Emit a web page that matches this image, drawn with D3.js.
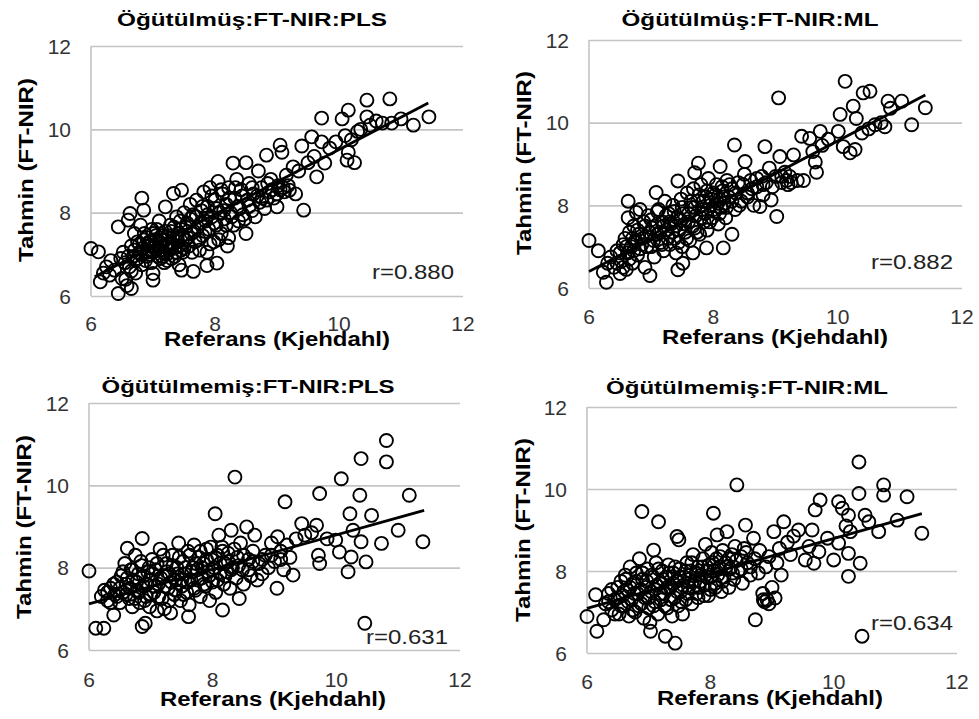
<!DOCTYPE html>
<meta charset="utf-8">
<style>
body { margin: 0; background: #fff; }
text { font-family: Arial, "Liberation Sans", sans-serif; }
.grid line { stroke: #c4c4c4; stroke-width: 1.6px; }
.grid path { display: none; }
.axisline { stroke: #c4c4c4; stroke-width: 1.6px; }
.dots circle { fill: none; stroke: #000; stroke-width: 1.9px; }
.fit { stroke: #000; stroke-width: 2.8px; }
.tick-label { fill: #333; font-size: 21px; }
</style>
<svg width="979" height="719"></svg>
<script src="https://cdn.jsdelivr.net/npm/d3@7"></script>
<script>

var titles = ["Öğütülmüş:FT-NIR:PLS", "Öğütülmüş:FT-NIR:ML", "Öğütülmemiş:FT-NIR:PLS", "Öğütülmemiş:FT-NIR:ML"];
var rLabels = ["r=0.880", "r=0.882", "r=0.631", "r=0.634"];
var xTitle = "Referans (Kjehdahl)";
var yTitle = "Tahmin (FT-NIR)";
var xTicks = [6, 8, 10, 12];
var yTicks = [6, 8, 10, 12];

// trend lines, end points
var fit1 = [[6.06, 6.46], [11.44, 10.63]];
var fit2 = [[6.0, 6.4], [11.41, 10.67]];
var fit3 = [[6.0, 7.12], [11.42, 9.39]];
var fit4 = [[6.0, 7.09], [11.43, 9.4]];

var pts1 = [[6.0,7.14],[6.12,7.06],[6.15,6.34],[6.2,6.55],[6.25,6.7],[6.3,6.5],[6.32,6.85],[6.38,6.62],[6.44,6.06],[6.44,7.66],[6.48,6.9],[6.5,6.42],[6.52,7.05],[6.56,6.4],[6.58,6.25],[6.6,7.82],[6.62,6.7],[6.63,7.98],[6.65,6.18],[6.65,7.2],[6.68,6.95],[6.7,7.5],[6.72,6.55],[6.75,7.3],[6.78,7.05],[6.8,7.7],[6.82,8.35],[6.84,7.15],[6.85,8.06],[6.88,6.85],[6.9,7.4],[6.92,7.25],[6.95,7.0],[6.98,7.6],[7.0,6.38],[7.0,6.54],[7.02,7.2],[7.05,7.45],[7.08,6.95],[7.1,7.8],[7.12,7.1],[7.15,7.35],[7.18,6.8],[7.2,8.14],[7.2,7.55],[7.22,7.0],[7.25,7.25],[7.28,7.7],[7.3,6.9],[7.32,7.4],[7.33,8.46],[7.35,7.15],[7.38,7.9],[7.4,7.3],[7.42,6.75],[7.45,7.6],[7.46,8.54],[7.46,6.62],[7.48,7.05],[7.5,8.0],[7.52,7.35],[7.55,7.75],[7.58,7.2],[7.6,8.2],[7.62,7.5],[7.65,6.59],[7.65,7.95],[7.68,7.3],[7.7,8.3],[7.72,7.65],[7.75,7.1],[7.78,8.05],[7.8,7.45],[7.82,8.5],[7.85,7.8],[7.87,6.73],[7.87,7.05],[7.88,8.15],[7.9,7.6],[7.92,8.6],[7.95,7.9],[7.98,7.3],[8.0,8.3],[8.02,7.7],[8.03,6.79],[8.05,8.75],[8.08,8.0],[8.1,7.5],[8.12,8.45],[8.15,7.85],[8.18,8.2],[8.2,7.2],[8.22,7.4],[8.22,8.6],[8.25,8.0],[8.29,9.19],[8.3,7.7],[8.32,8.35],[8.35,8.8],[8.38,7.8],[8.4,8.1],[8.42,8.55],[8.45,7.95],[8.5,9.2],[8.5,7.5],[8.52,8.3],[8.55,8.7],[8.6,8.05],[8.62,8.45],[8.65,7.9],[8.7,9.0],[8.72,8.25],[8.75,8.6],[8.8,8.1],[8.83,9.38],[8.83,8.3],[8.88,8.5],[8.9,8.8],[8.95,8.35],[9.0,8.14],[9.02,8.65],[9.05,9.62],[9.08,9.45],[9.1,8.6],[9.15,8.9],[9.2,8.54],[9.26,9.1],[9.3,8.45],[9.35,9.0],[9.4,9.6],[9.43,8.06],[9.5,9.2],[9.56,9.82],[9.6,9.35],[9.64,8.86],[9.72,9.7],[9.72,10.27],[9.77,9.19],[9.85,9.55],[9.95,9.7],[10.05,10.25],[10.1,9.85],[10.13,9.26],[10.15,10.46],[10.15,9.45],[10.2,9.75],[10.25,9.2],[10.3,9.95],[10.35,10.0],[10.45,10.3],[10.45,10.7],[10.5,10.1],[10.6,10.2],[10.7,10.15],[10.82,10.73],[10.85,10.15],[11.0,10.25],[11.2,10.1],[11.45,10.3],[6.85,7.35],[6.95,7.2],[7.05,7.1],[7.1,7.3],[7.15,6.95],[7.25,7.45],[7.3,7.15],[7.35,6.95],[6.75,6.9],[6.9,7.05],[7.0,7.5],[7.2,7.2],[7.4,7.5],[7.45,7.1],[6.8,7.0],
  [6.55,6.8],[6.6,6.95],[6.65,6.6],[6.7,7.1],[6.72,6.85],[6.78,7.25],[6.82,6.75],[6.86,7.5],[6.9,6.95],[6.94,7.3],[6.97,6.8],[7.0,7.05],[7.03,7.35],[7.06,7.6],[7.09,7.15],[7.12,6.9],[7.14,7.45],[7.17,7.05],[7.2,7.35],[7.23,6.85],[7.26,7.1],[7.29,7.55],[7.31,7.25],[7.34,7.65],[7.37,7.05],[7.39,7.4],[7.42,7.2],[7.44,7.8],[7.47,7.45],[7.5,7.15],[7.53,7.65],[7.56,7.4],[7.6,7.85],[7.63,7.05],[7.66,7.55],[7.7,7.9],[7.74,7.35],[7.77,7.75],[7.8,8.15],[7.84,7.55],[7.88,7.95],[7.92,7.25],[7.95,8.4],[7.99,7.75],[8.03,8.1],[8.06,7.35],[8.1,8.55],[8.14,8.05],[8.18,7.7],[8.23,8.35],[8.27,7.9],[8.33,8.6],[8.37,8.15],[8.44,8.4],[8.48,7.85],[8.55,8.15],[8.6,8.6],[8.68,8.4],[8.76,8.35],[8.85,8.7],[8.92,8.55],[9.0,8.45],[9.05,8.55],[9.12,8.5],[9.18,8.65]];

var pts2 = [[6.0,7.15],[6.15,6.9],[6.23,6.38],[6.28,6.14],[6.3,6.6],[6.35,6.75],[6.4,6.5],[6.45,6.9],[6.5,6.35],[6.52,6.65],[6.55,7.05],[6.58,7.2],[6.6,6.45],[6.62,6.85],[6.63,7.7],[6.63,8.1],[6.65,7.35],[6.68,7.0],[6.7,6.6],[6.72,7.5],[6.75,7.15],[6.76,7.83],[6.78,6.8],[6.8,7.3],[6.82,7.9],[6.85,7.05],[6.88,7.6],[6.9,6.5],[6.92,7.25],[6.95,7.75],[6.98,6.3],[7.0,7.0],[7.02,7.45],[7.05,6.75],[7.08,8.31],[7.1,7.3],[7.12,7.9],[7.15,7.1],[7.18,7.6],[7.2,6.9],[7.22,8.1],[7.25,7.4],[7.28,7.8],[7.3,7.05],[7.32,7.55],[7.35,8.0],[7.38,7.2],[7.4,6.85],[7.42,7.7],[7.43,8.59],[7.43,6.44],[7.45,7.4],[7.48,8.15],[7.5,7.0],[7.51,6.6],[7.52,7.8],[7.55,7.35],[7.58,8.3],[7.6,7.6],[7.62,7.15],[7.65,7.95],[7.67,6.85],[7.68,8.4],[7.7,8.79],[7.7,7.45],[7.72,7.75],[7.75,8.1],[7.76,9.02],[7.78,7.3],[7.8,8.5],[7.82,7.9],[7.85,7.6],[7.88,8.2],[7.89,6.97],[7.9,7.4],[7.92,8.65],[7.95,8.0],[7.98,7.7],[8.0,8.3],[8.02,7.85],[8.05,8.5],[8.08,7.55],[8.1,8.15],[8.11,8.94],[8.12,7.95],[8.15,8.35],[8.16,6.97],[8.18,8.05],[8.2,7.7],[8.22,8.6],[8.25,8.2],[8.3,7.3],[8.3,8.4],[8.34,9.46],[8.35,7.9],[8.4,8.55],[8.45,8.1],[8.5,8.75],[8.51,9.06],[8.55,8.3],[8.6,8.6],[8.65,8.0],[8.7,8.45],[8.75,7.97],[8.78,8.7],[8.8,8.25],[8.83,9.42],[8.85,8.55],[8.9,8.9],[8.93,8.13],[8.95,8.45],[9.0,8.7],[9.02,7.73],[9.05,10.6],[9.07,9.18],[9.1,8.55],[9.15,8.8],[9.2,8.5],[9.23,8.7],[9.29,9.22],[9.35,8.6],[9.42,9.67],[9.45,8.6],[9.55,9.62],[9.6,9.3],[9.64,9.05],[9.66,8.8],[9.72,9.79],[9.75,9.45],[9.85,9.6],[10.01,9.79],[10.04,10.2],[10.09,9.42],[10.12,11.0],[10.2,9.27],[10.25,10.4],[10.28,9.35],[10.3,10.1],[10.39,9.75],[10.41,10.72],[10.5,9.85],[10.52,10.76],[10.6,9.95],[10.7,10.0],[10.76,9.9],[10.81,10.52],[10.85,10.35],[11.03,10.52],[11.19,9.95],[11.41,10.36],
  [6.45,6.6],[6.5,6.85],[6.55,6.5],[6.6,7.0],[6.65,6.7],[6.7,7.2],[6.72,6.9],[6.78,7.4],[6.82,6.95],[6.86,7.2],[6.9,7.5],[6.93,7.0],[6.97,7.35],[7.0,7.65],[7.04,7.15],[7.07,7.5],[7.1,7.85],[7.14,7.35],[7.17,7.05],[7.2,7.5],[7.24,7.75],[7.27,7.2],[7.3,7.6],[7.34,7.35],[7.37,7.85],[7.4,7.5],[7.44,7.1],[7.47,7.65],[7.5,7.95],[7.54,7.55],[7.57,7.2],[7.6,7.8],[7.64,8.1],[7.67,7.5],[7.7,7.95],[7.74,7.35],[7.77,8.25],[7.8,7.7],[7.84,8.1],[7.87,7.8],[7.9,8.35],[7.94,7.6],[7.97,8.15],[8.0,7.9],[8.03,8.25],[8.07,8.05],[8.1,7.8],[8.14,8.45],[8.17,8.2],[8.21,7.95],[8.26,8.5],[8.3,8.1],[8.36,8.3],[8.42,8.0],[8.48,8.5],[8.55,8.2],[8.62,8.4],[8.7,8.65],[8.8,8.5],[9.1,8.7],[9.18,8.6],[9.25,8.55]];

var pts3 = [[6.0,7.92],[6.11,6.53],[6.24,6.53],[6.2,7.3],[6.25,7.45],[6.3,7.2],[6.35,7.5],[6.4,6.85],[6.42,7.35],[6.45,7.65],[6.5,7.15],[6.52,7.8],[6.55,7.4],[6.58,8.1],[6.6,7.6],[6.62,8.47],[6.65,7.25],[6.68,7.95],[6.7,7.05],[6.72,7.7],[6.75,8.3],[6.78,7.45],[6.8,7.85],[6.82,7.15],[6.85,8.05],[6.86,8.71],[6.86,6.57],[6.88,7.55],[6.91,6.65],[6.92,7.3],[6.95,7.9],[6.98,7.05],[7.0,7.7],[7.02,8.2],[7.05,7.4],[7.08,7.95],[7.1,6.95],[7.12,7.6],[7.15,8.45],[7.18,7.25],[7.2,7.8],[7.22,7.0],[7.25,8.1],[7.28,7.5],[7.3,7.85],[7.32,6.9],[7.35,8.3],[7.38,7.35],[7.4,7.7],[7.42,8.0],[7.45,8.6],[7.48,7.2],[7.5,7.55],[7.52,8.15],[7.55,7.85],[7.58,7.4],[7.6,8.4],[7.61,6.81],[7.62,7.1],[7.65,7.7],[7.68,8.0],[7.7,8.55],[7.72,7.45],[7.75,7.95],[7.78,8.25],[7.8,7.3],[7.82,7.75],[7.85,8.1],[7.88,7.55],[7.9,8.45],[7.92,7.9],[7.95,7.2],[7.98,8.2],[8.0,7.65],[8.02,8.0],[8.04,9.31],[8.05,7.4],[8.08,8.3],[8.1,8.79],[8.12,7.85],[8.15,8.5],[8.16,6.97],[8.18,7.6],[8.2,8.1],[8.22,7.9],[8.25,8.35],[8.28,7.5],[8.3,8.91],[8.32,8.0],[8.36,10.2],[8.38,7.75],[8.4,8.25],[8.43,7.25],[8.45,8.6],[8.48,7.95],[8.5,7.6],[8.55,8.99],[8.58,8.2],[8.62,7.8],[8.65,8.4],[8.68,8.79],[8.72,7.7],[8.75,8.1],[8.8,7.85],[8.85,8.3],[8.9,8.0],[8.95,8.6],[9.0,8.15],[9.04,7.5],[9.05,8.75],[9.1,8.4],[9.15,7.95],[9.17,9.6],[9.2,8.55],[9.25,8.25],[9.3,7.82],[9.35,8.7],[9.44,9.07],[9.49,8.79],[9.6,8.85],[9.68,9.03],[9.71,8.3],[9.73,9.8],[9.73,8.1],[9.85,8.7],[9.99,8.67],[10.05,8.38],[10.08,10.16],[10.19,7.9],[10.22,9.31],[10.24,8.26],[10.27,8.91],[10.38,9.76],[10.4,10.65],[10.4,8.63],[10.46,6.65],[10.48,8.14],[10.57,9.27],[10.73,8.59],[10.81,11.09],[10.81,10.57],[11.0,8.91],[11.18,9.76],[11.4,8.63],
  [6.3,7.4],[6.35,7.15],[6.4,7.6],[6.45,7.3],[6.5,7.5],[6.55,7.9],[6.6,7.35],[6.62,7.75],[6.66,7.5],[6.7,7.95],[6.74,7.25],[6.77,7.65],[6.8,7.4],[6.84,8.15],[6.88,7.8],[6.9,7.2],[6.94,7.6],[6.97,8.0],[7.0,7.35],[7.03,7.85],[7.06,7.55],[7.1,8.1],[7.13,7.3],[7.16,7.75],[7.2,8.3],[7.23,7.55],[7.26,7.9],[7.3,7.2],[7.33,7.65],[7.36,8.05],[7.4,7.45],[7.43,7.85],[7.46,8.25],[7.5,7.7],[7.53,7.35],[7.56,8.0],[7.6,7.65],[7.63,8.3],[7.66,7.9],[7.7,7.5],[7.73,8.1],[7.76,7.7],[7.8,8.4],[7.83,8.0],[7.86,7.6],[7.9,8.2],[7.94,7.8],[7.97,8.5],[8.0,7.95],[8.04,8.25],[8.08,7.7],[8.12,8.1],[8.16,8.4],[8.2,7.8],[8.25,8.15],[8.3,7.95],[8.35,8.45],[8.42,8.05],[8.5,8.3],[8.58,7.95],[8.65,8.15],[8.8,8.2],[8.95,8.3],[9.1,8.2]];

var pts4 = [[6.0,6.89],[6.14,7.42],[6.16,6.53],[6.27,6.81],[6.3,7.2],[6.35,7.45],[6.4,7.05],[6.45,7.3],[6.5,7.6],[6.52,6.95],[6.55,7.75],[6.58,7.4],[6.6,7.15],[6.62,7.9],[6.65,7.55],[6.68,6.9],[6.7,8.1],[6.72,7.3],[6.75,7.7],[6.78,7.0],[6.8,7.95],[6.82,7.45],[6.85,8.3],[6.88,7.2],[6.89,9.45],[6.9,7.8],[6.92,6.85],[6.95,7.6],[6.98,8.05],[7.0,7.35],[7.02,6.75],[7.03,6.53],[7.05,7.9],[7.08,8.51],[7.08,7.15],[7.1,7.55],[7.12,8.2],[7.15,6.95],[7.16,9.2],[7.18,7.7],[7.2,7.3],[7.22,8.0],[7.25,7.45],[7.27,6.41],[7.28,7.85],[7.3,7.1],[7.32,8.15],[7.35,7.6],[7.38,6.9],[7.4,7.95],[7.42,7.35],[7.43,6.24],[7.45,7.75],[7.46,8.84],[7.48,7.15],[7.49,8.76],[7.5,8.05],[7.52,7.5],[7.55,6.95],[7.58,7.85],[7.6,7.3],[7.62,8.2],[7.65,7.6],[7.68,8.0],[7.7,7.2],[7.72,8.4],[7.75,7.75],[7.78,7.45],[7.8,8.1],[7.82,7.6],[7.85,7.9],[7.88,8.3],[7.9,7.4],[7.92,8.65],[7.95,7.85],[7.98,8.15],[8.0,7.55],[8.02,8.45],[8.05,9.41],[8.05,8.0],[8.08,7.7],[8.1,8.3],[8.11,8.88],[8.12,7.9],[8.15,8.1],[8.18,7.5],[8.2,8.5],[8.22,7.85],[8.25,8.2],[8.27,8.96],[8.3,7.6],[8.32,8.05],[8.35,8.4],[8.38,7.8],[8.4,8.6],[8.43,10.1],[8.45,8.0],[8.5,8.35],[8.52,7.7],[8.55,8.55],[8.57,9.12],[8.6,8.2],[8.65,7.9],[8.7,8.8],[8.72,8.3],[8.73,6.81],[8.78,7.95],[8.8,8.5],[8.86,7.3],[8.9,8.1],[8.92,7.3],[8.95,8.35],[9.0,7.6],[9.03,8.96],[9.05,7.34],[9.08,8.2],[9.12,8.55],[9.15,7.9],[9.19,9.2],[9.25,8.7],[9.3,8.4],[9.35,8.85],[9.43,9.0],[9.54,8.27],[9.6,8.6],[9.65,9.0],[9.68,8.19],[9.7,9.49],[9.76,8.47],[9.78,9.73],[9.9,8.8],[10.0,8.27],[10.08,9.69],[10.08,8.68],[10.14,9.53],[10.2,9.1],[10.24,9.36],[10.24,8.43],[10.24,7.87],[10.27,8.96],[10.41,10.66],[10.41,9.89],[10.43,8.19],[10.46,6.41],[10.51,9.36],[10.57,9.2],[10.73,8.96],[10.81,10.1],[10.81,9.85],[11.03,9.24],[11.19,9.81],[11.43,8.92],
  [6.35,7.25],[6.4,7.55],[6.45,6.95],[6.5,7.35],[6.55,7.15],[6.6,7.5],[6.63,7.8],[6.67,7.25],[6.7,7.6],[6.74,7.05],[6.77,7.45],[6.8,7.75],[6.84,7.15],[6.87,7.55],[6.9,7.95],[6.94,7.35],[6.97,7.75],[7.0,7.1],[7.04,7.5],[7.07,7.85],[7.1,7.25],[7.13,7.65],[7.16,8.05],[7.2,7.45],[7.23,7.8],[7.26,7.15],[7.3,7.6],[7.33,7.95],[7.36,7.3],[7.4,7.7],[7.43,8.1],[7.46,7.5],[7.5,7.85],[7.53,7.25],[7.56,7.65],[7.6,8.0],[7.63,7.45],[7.66,7.8],[7.7,8.2],[7.73,7.6],[7.77,7.95],[7.8,7.35],[7.84,7.75],[7.87,8.1],[7.9,7.65],[7.94,8.0],[7.97,7.4],[8.0,7.85],[8.04,8.2],[8.08,7.6],[8.12,8.05],[8.16,8.35],[8.2,7.75],[8.25,8.1],[8.3,8.3],[8.36,7.95],[8.42,8.25],[8.5,8.05],[8.58,8.45],[8.65,8.1],[8.85,7.45],[8.95,7.2],[8.88,7.25]];

var svg = d3.select("svg");

// plot boxes and text spots for the 4 panels
var panels = [
  { pts: pts1, fit: fit1, left: 91, right: 463, top: 46, bottom: 296,
    tx: 252, ty: 20, tw: 270, yx: 25, yy: 170, xx: 277, xy: 339, tickY: 323, rx: 454, ry: 272 },
  { pts: pts2, fit: fit2, left: 589, right: 962, top: 40, bottom: 288,
    tx: 750, ty: 20, tw: 257, yx: 523, yy: 163, xx: 775, xy: 337, tickY: 316, rx: 953, ry: 262 },
  { pts: pts3, fit: fit3, left: 89, right: 460, top: 403, bottom: 650,
    tx: 248, ty: 387, tw: 293, yx: 23, yy: 527, xx: 273, xy: 699, tickY: 679, rx: 448, ry: 637 },
  { pts: pts4, fit: fit4, left: 587, right: 957, top: 407, bottom: 653,
    tx: 747, ty: 388, tw: 282, yx: 522, yy: 530, xx: 770, xy: 698, tickY: 681, rx: 953, ry: 623 }
];

panels.forEach(function(p, i) {
  var x = d3.scaleLinear().domain([6, 12]).range([p.left, p.right]);
  var y = d3.scaleLinear().domain([6, 12]).range([p.bottom, p.top]);
  var g = svg.append("g");

  g.append("g")
      .attr("class", "grid")
      .attr("transform", "translate(" + p.left + ",0)")
      .call(d3.axisLeft(y).tickValues(yTicks).tickSize(-(p.right - p.left)).tickFormat(""));

  g.append("line")
      .attr("class", "axisline")
      .attr("x1", x(6)).attr("x2", x(6))
      .attr("y1", y(6)).attr("y2", y(12));

  // tick labels
  g.selectAll(".ylab")
      .data(yTicks)
      .enter().append("text")
      .attr("class", "tick-label")
      .attr("x", p.left - 20)
      .attr("y", function(d) { return y(d); })
      .attr("dy", "0.36em")
      .attr("text-anchor", "end")
      .text(function(d) { return d; });

  g.selectAll(".xlab")
      .data(xTicks)
      .enter().append("text")
      .attr("class", "tick-label")
      .attr("x", function(d) { return x(d); })
      .attr("y", p.tickY)
      .attr("dy", "0.36em")
      .attr("text-anchor", "middle")
      .text(function(d) { return d; });

  g.append("g")
      .attr("class", "dots")
      .selectAll("circle")
      .data(p.pts)
      .enter().append("circle")
      .attr("cx", function(d) { return x(d[0]); })
      .attr("cy", function(d) { return y(d[1]); })
      .attr("r", 6.5);

  g.append("line")
      .attr("class", "fit")
      .attr("x1", x(p.fit[0][0])).attr("y1", y(p.fit[0][1]))
      .attr("x2", x(p.fit[1][0])).attr("y2", y(p.fit[1][1]));

  g.append("text")
      .attr("x", p.tx).attr("y", p.ty)
      .attr("dy", "0.36em")
      .attr("text-anchor", "middle")
      .attr("textLength", p.tw)
      .attr("lengthAdjust", "spacingAndGlyphs")
      .style("font-size", "18px")
      .style("font-weight", "bold")
      .text(titles[i]);

  g.append("text")
      .attr("x", p.xx).attr("y", p.xy)
      .attr("dy", "0.36em")
      .attr("text-anchor", "middle")
      .attr("textLength", 226)
      .attr("lengthAdjust", "spacingAndGlyphs")
      .style("font-size", "20px")
      .style("font-weight", "bold")
      .text(xTitle);

  g.append("text")
      .attr("transform", "translate(" + p.yx + "," + p.yy + ") rotate(-90)")
      .attr("dy", "0.36em")
      .attr("text-anchor", "middle")
      .attr("textLength", 184)
      .attr("lengthAdjust", "spacingAndGlyphs")
      .style("font-size", "21px")
      .style("font-weight", "bold")
      .text(yTitle);

  g.append("text")
      .attr("x", p.rx).attr("y", p.ry)
      .attr("dy", "0.36em")
      .attr("text-anchor", "end")
      .attr("textLength", 82)
      .attr("lengthAdjust", "spacingAndGlyphs")
      .style("font-size", "20px")
      .style("fill", "#222")
      .text(rLabels[i]);
});

</script>
